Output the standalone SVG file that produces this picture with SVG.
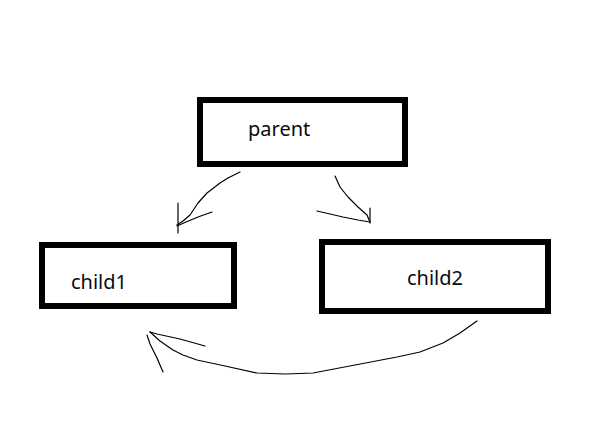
<svg xmlns="http://www.w3.org/2000/svg" width="609" height="438" viewBox="0 0 609 438">
<style>
.box{fill:#fff;stroke:#000;stroke-width:6}
.lbl{font-family:"Noto Sans","Open Sans",sans-serif;font-size:20px;fill:#0a0a14}
.ln{fill:none;stroke:#000;stroke-width:1.2;stroke-linejoin:round;stroke-linecap:round}
</style>
<rect width="609" height="438" fill="#fff"/>
<g id="parent">
<rect class="box" x="200" y="100" width="205" height="64"/>
<text class="lbl" x="248" y="136">parent</text>
</g>
<g id="child1">
<rect class="box" x="42" y="245" width="192" height="61"/>
<text class="lbl" x="71" y="289">child1</text>
</g>
<g id="child2">
<rect class="box" x="322" y="242" width="226" height="69"/>
<text class="lbl" x="407" y="285">child2</text>
</g>
<g id="connectors">
<polyline class="ln" points="240,172 228,178 220,183 207,193 198,203 190,215 183,221 177,225"/>
<polyline class="ln" points="178,203 178,233"/>
<polyline class="ln" points="212,212 198,217 186,222 177,226"/>
<polyline class="ln" points="335,176 340,187 348,197 358,207 367,215 370,222"/>
<polyline class="ln" points="370,208 370,223"/>
<polyline class="ln" points="317,211 330,214 343,217 358,220 370,222"/>
<polyline class="ln" points="477,321 460,333 443,343 420,352 397,357 355,365 313,373 285,374 257,373 225,366 197,360 183,355 173,350 160,341 150,332"/>
<polyline class="ln" points="150,332 157,334 180,339 205,346"/>
<polyline class="ln" points="147,335 150,344 157,358 163,372"/>
</g>
</svg>
